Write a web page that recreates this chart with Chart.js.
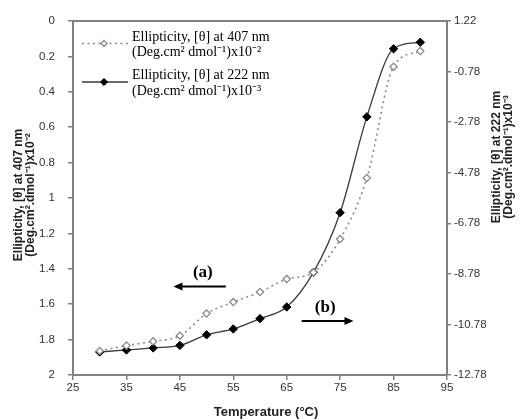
<!DOCTYPE html>
<html>
<head>
<meta charset="utf-8">
<script src="https://cdn.jsdelivr.net/npm/chart.js@4.4.1/dist/chart.umd.min.js"></script>
<style>
  html, body { margin: 0; padding: 0; background: #fff; }
  canvas { display: block; }
</style>
</head>
<body>
<canvas id="chart" width="521" height="419"></canvas>
<script>
// Thermal unfolding followed by CD ellipticity at two wavelengths
const temperatures = [30, 35, 40, 45, 50, 55, 60, 65, 70, 75, 80, 85, 90];
const theta407 = [1.864, 1.834, 1.81, 1.778, 1.653, 1.588, 1.531, 1.458, 1.42, 1.232, 0.887, 0.258, 0.17];
const theta222 = [-11.87, -11.79, -11.71, -11.61, -11.19, -10.96, -10.55, -10.09, -8.72, -6.36, -2.57, 0.12, 0.38];

const temperatureTicks = [25, 35, 45, 55, 65, 75, 85, 95];
const leftTicks = [0, 0.2, 0.4, 0.6, 0.8, 1, 1.2, 1.4, 1.6, 1.8, 2];
const rightTicks = [-12.78, -10.78, -8.78, -6.78, -4.78, -2.78, -0.78, 1.22];

const legendLabels = [
  ['Ellipticity, [\u03B8] at 407 nm', '(Deg.cm\u00B2 dmol\u207B\u00B9)x10\u207B\u00B2'],
  ['Ellipticity, [\u03B8] at 222 nm', '(Deg.cm\u00B2 dmol\u207B\u00B9)x10\u207B\u00B3']
];
const leftTitle = ['Ellipticity, [\u03B8] at 407 nm', '(Deg.cm\u00B2.dmol\u207B\u00B9)x10\u207B\u00B2'];
const rightTitle = ['Ellipticity, [\u03B8] at 222 nm', '(Deg.cm\u00B2.dmol\u207B\u00B9)x10\u207B\u00B3'];
const xTitle = 'Temperature (\u00B0C)';

// Direction markers: label text, arrow start/end (temperature, left-axis value)
const markers = [
  { text: '(a)', label: [49.3, 1.42], from: [53.6, 1.50], to: [43.8, 1.50] },
  { text: '(b)', label: [72.2, 1.62], from: [67.8, 1.695], to: [77.5, 1.695] }
];

const AXIS_GREY = '#808080';
const SANS = '"Liberation Sans", Arial, sans-serif';
const SERIF = '"Liberation Serif", "Times New Roman", serif';

const toPoints = (ys) => temperatures.map((t, i) => ({ x: t, y: ys[i] }));

const style407 = {
  borderColor: '#8a8a8a', borderWidth: 1.6, borderDash: [2, 3.5],
  pointStyle: 'rectRot', pointRadius: 3.6, pointBackgroundColor: '#fff',
  pointBorderColor: '#8a8a8a', pointBorderWidth: 1.3
};
const style222 = {
  borderColor: '#3a3a3a', borderWidth: 1.3, borderDash: [],
  pointStyle: 'rectRot', pointRadius: 4.2, pointBackgroundColor: '#000',
  pointBorderColor: '#000', pointBorderWidth: 1
};

function diamond(ctx, cx, cy, r) {
  ctx.beginPath();
  ctx.moveTo(cx, cy - r);
  ctx.lineTo(cx + r, cy);
  ctx.lineTo(cx, cy + r);
  ctx.lineTo(cx - r, cy);
  ctx.closePath();
}

function verticalText(ctx, lines, cx, cy, gap) {
  ctx.save();
  ctx.translate(cx, cy);
  ctx.rotate(-Math.PI / 2);
  lines.forEach((t, i) => ctx.fillText(t, 0, i * gap));
  ctx.restore();
}

const overlay = {
  id: 'overlay',
  afterDraw(chart) {
    const { ctx, chartArea: a, scales } = chart;
    const x = scales.x, yL = scales.yL;
    ctx.save();

    // frame line along the top of the plot area
    ctx.strokeStyle = AXIS_GREY;
    ctx.lineWidth = 2;
    ctx.beginPath();
    ctx.moveTo(a.left - 1, a.top);
    ctx.lineTo(a.right + 1, a.top);
    ctx.stroke();

    // legend (two-line entries)
    const entries = [style407, style222];
    const rows = [[a.top + 16, a.top + 31], [a.top + 54, a.top + 70]];
    entries.forEach((s, i) => {
      const yMid = (rows[i][0] + rows[i][1]) / 2 - 1;
      ctx.strokeStyle = s.borderColor;
      ctx.lineWidth = s.borderWidth;
      ctx.setLineDash(s.borderDash);
      ctx.beginPath();
      ctx.moveTo(a.left + 9, yMid);
      ctx.lineTo(a.left + 55, yMid);
      ctx.stroke();
      ctx.setLineDash([]);
      ctx.fillStyle = s.pointBackgroundColor;
      ctx.strokeStyle = s.pointBorderColor;
      ctx.lineWidth = s.pointBorderWidth;
      diamond(ctx, a.left + 31, yMid, s.pointRadius * 0.85);
      ctx.fill();
      ctx.stroke();

      ctx.fillStyle = '#000';
      ctx.font = '14px ' + SERIF;
      ctx.textAlign = 'left';
      ctx.textBaseline = 'middle';
      ctx.fillText(legendLabels[i][0], a.left + 59, rows[i][0]);
      ctx.fillText(legendLabels[i][1], a.left + 59, rows[i][1]);
    });

    // direction markers
    markers.forEach(m => {
      const x1 = x.getPixelForValue(m.from[0]), y1 = yL.getPixelForValue(m.from[1]);
      const x2 = x.getPixelForValue(m.to[0]), y2 = yL.getPixelForValue(m.to[1]);
      const dir = Math.sign(x2 - x1);
      ctx.strokeStyle = '#000';
      ctx.lineWidth = 2;
      ctx.beginPath();
      ctx.moveTo(x1, y1);
      ctx.lineTo(x2 - dir * 6, y2);
      ctx.stroke();
      ctx.fillStyle = '#000';
      ctx.beginPath();
      ctx.moveTo(x2, y2);
      ctx.lineTo(x2 - dir * 9, y2 - 4);
      ctx.lineTo(x2 - dir * 9, y2 + 4);
      ctx.closePath();
      ctx.fill();
      ctx.font = 'bold 17px ' + SERIF;
      ctx.textAlign = 'center';
      ctx.textBaseline = 'middle';
      ctx.fillText(m.text, x.getPixelForValue(m.label[0]), yL.getPixelForValue(m.label[1]));
    });

    // axis titles
    ctx.fillStyle = '#222';
    ctx.textAlign = 'center';
    ctx.textBaseline = 'middle';
    ctx.font = 'bold 13px ' + SANS;
    ctx.fillText(xTitle, (a.left + a.right) / 2 + 6, 412);

    ctx.font = 'bold 12px ' + SANS;
    verticalText(ctx, leftTitle, 19, 195, 12);
    verticalText(ctx, rightTitle, 497, 157, 12);

    ctx.restore();
  }
};

const tickFont = { family: SANS, size: 11.5 };

new Chart(document.getElementById('chart'), {
  type: 'line',
  data: {
    datasets: [
      Object.assign({ label: legendLabels[0].join(' '), data: toPoints(theta407), yAxisID: 'yL',
        cubicInterpolationMode: 'monotone', fill: false }, style407),
      Object.assign({ label: legendLabels[1].join(' '), data: toPoints(theta222), yAxisID: 'yR',
        cubicInterpolationMode: 'monotone', fill: false }, style222)
    ]
  },
  options: {
    responsive: false,
    animation: false,
    devicePixelRatio: 1,
    layout: { padding: { top: 21, left: 0, right: 0, bottom: 0 } },
    plugins: { legend: { display: false }, tooltip: { enabled: false } },
    scales: {
      x: {
        type: 'linear', position: 'bottom', min: 25, max: 95,
        afterBuildTicks: s => { s.ticks = temperatureTicks.map(v => ({ value: v })); },
        afterFit: s => { s.height = 44; },
        grid: { drawOnChartArea: false, drawTicks: true, tickLength: 5, color: AXIS_GREY, lineWidth: 1.5 },
        border: { color: AXIS_GREY, width: 2 },
        ticks: { font: tickFont, color: '#333', padding: 1, maxRotation: 0, callback: v => String(v) }
      },
      yL: {
        type: 'linear', position: 'left', min: 0, max: 2, reverse: true,
        afterBuildTicks: s => { s.ticks = leftTicks.map(v => ({ value: v })); },
        afterFit: s => { s.width = 73; },
        grid: { drawOnChartArea: false, drawTicks: true, tickLength: 5, color: AXIS_GREY, lineWidth: 1.5 },
        border: { color: AXIS_GREY, width: 2 },
        ticks: { font: tickFont, color: '#333', padding: 13, callback: v => String(Math.round(v * 10) / 10) }
      },
      yR: {
        type: 'linear', position: 'right', min: -12.78, max: 1.22,
        afterBuildTicks: s => { s.ticks = rightTicks.map(v => ({ value: v })); },
        afterFit: s => { s.width = 74; },
        grid: { drawOnChartArea: false, drawTicks: true, tickLength: 4, color: AXIS_GREY, lineWidth: 1.5 },
        border: { color: AXIS_GREY, width: 2 },
        ticks: { font: tickFont, color: '#333', padding: 3, callback: v => v.toFixed(2) }
      }
    }
  },
  plugins: [overlay]
});
</script>
</body>
</html>
